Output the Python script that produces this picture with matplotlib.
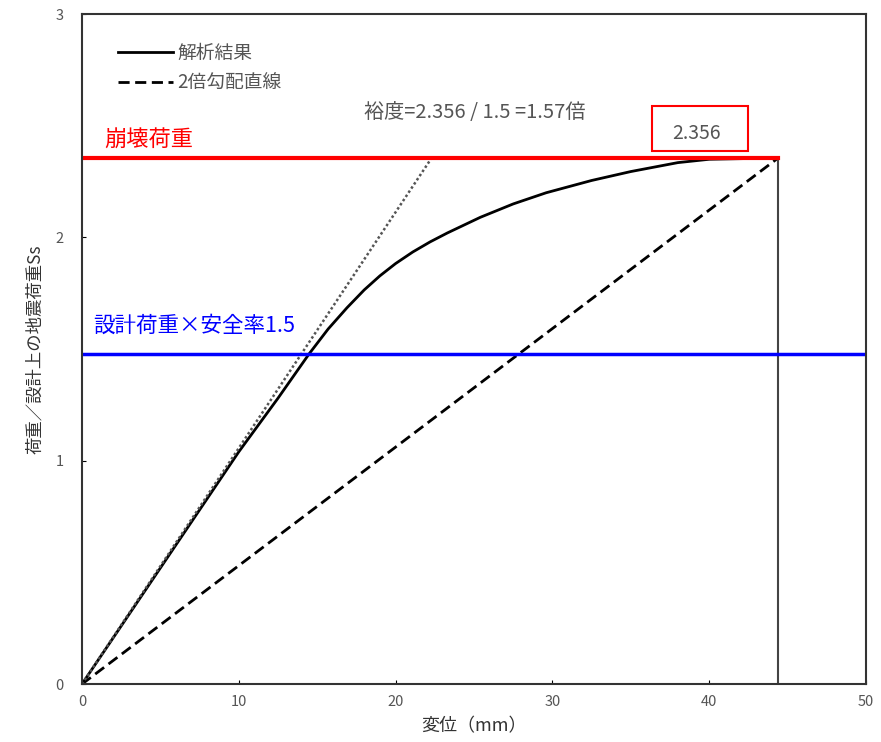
import matplotlib.pyplot as plt
from matplotlib.patches import Rectangle

plt.rcParams['font.family'] = ['Noto Sans CJK JP', 'DejaVu Sans']

# analysis result curve (displacement mm, load ratio)
disp = [0, 2.5, 5, 7.5, 10, 12.5, 14.5, 15.7, 16.9, 18, 19, 20, 21.1, 22.2, 23.3,
        25.4, 27.5, 29.6, 32.5, 35, 38, 40, 44.4]
load = [0, 0.26, 0.52, 0.78, 1.04, 1.28, 1.48, 1.59, 1.685, 1.765, 1.828, 1.883, 1.935, 1.98, 2.02,
        2.09, 2.15, 2.20, 2.255, 2.295, 2.335, 2.35, 2.356]

collapse_load = 2.356
collapse_disp = 44.4
design_load = 1.48
tangent_end = 22.3

fig = plt.figure(figsize=(8.81, 7.42), dpi=100)
ax = fig.add_axes([0.093, 0.078, 0.890, 0.903])

ax.plot(disp, load, color='black', lw=2, label='解析結果')
ax.plot([0, collapse_disp], [0, collapse_load], color='black', lw=2, ls=(0, (4, 2)), label='2倍勾配直線')
ax.plot([0, tangent_end], [0, collapse_load], color='#555555', lw=1.8, ls=(0, (1, 1)))
ax.plot([collapse_disp, collapse_disp], [0, collapse_load], color='#444444', lw=1.5)
ax.plot([0, collapse_disp], [collapse_load, collapse_load], color='red', lw=3)
ax.axhline(design_load, color='blue', lw=2.5)

ax.text(1.45, 2.435, '崩壊荷重', color='red', fontsize=16, va='center')
ax.text(0.75, 1.605, '設計荷重×安全率1.5', color='blue', fontsize=15.5, va='center')
ax.text(25.05, 2.56, '裕度=2.356 / 1.5 =1.57倍', color='#555555', fontsize=14.5, ha='center', va='center')

# red box around the collapse value
ax.add_patch(Rectangle((36.35, 2.385), 6.15, 0.205, fill=False, ec='red', lw=1.5))
ax.text(39.2, 2.467, '2.356', color='#555555', fontsize=14, ha='center', va='center')

leg = ax.legend(loc='upper left', bbox_to_anchor=(0.025, 0.982), frameon=False, fontsize=13.5,
                handlelength=2.9, handletextpad=0.25, labelcolor='#555555', labelspacing=0.45)

ax.set_xlim(0, 50)
ax.set_ylim(0, 3)
ax.set_xticks([0, 10, 20, 30, 40, 50])
ax.set_yticks([0, 1, 2, 3])
ax.tick_params(labelsize=10.5, labelcolor='#555555', length=3, direction='in')
ax.tick_params(axis='y', pad=13)
ax.tick_params(axis='x', pad=8)
for s in ax.spines.values():
    s.set_linewidth(1.5)
    s.set_color('#333333')

ax.set_xlabel('変位（mm）', fontsize=13, color='#333333', labelpad=6)
ax.set_ylabel('荷重／設計上の地震荷重Ss', fontsize=12.5, color='#333333', labelpad=8)

fig.savefig('out.png', dpi=100)
